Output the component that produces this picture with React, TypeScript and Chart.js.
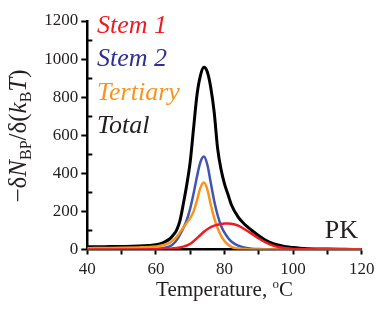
import React, { useEffect, useRef } from 'react';
import { Chart, registerables } from 'chart.js';

Chart.register(...registerables);

const temperatures = [40, 45, 50, 55, 58, 60, 62, 64, 65, 66, 67, 68, 69, 70, 71, 72, 73, 74, 75, 76, 77, 78, 79, 80, 81, 82, 84, 86, 88, 90, 92, 94, 96, 98, 100, 102, 106, 110, 115, 120];
const total = [14, 15, 16, 18, 21, 25, 35, 55, 75, 100, 150, 240, 340, 460, 640, 815, 915, 957, 932, 850, 720, 530, 420, 345, 290, 235, 170, 130, 100, 72, 48, 32, 22, 14, 10, 7, 3, 2, 1, 0];
const tertiary = [7, 8, 9, 11, 13, 16, 22, 35, 48, 65, 90, 115, 140, 165, 200, 260, 325, 352, 315, 235, 165, 112, 72, 45, 26, 14, 5, 2, 0, 0, 0, 0, 0, 0, 0, 0, 0, 0, 0, 0];
const stem2 = [0, 1, 1, 2, 3, 4, 7, 16, 28, 48, 78, 112, 155, 215, 295, 385, 460, 488, 445, 350, 255, 180, 125, 88, 62, 42, 20, 9, 4, 2, 1, 0, 0, 0, 0, 0, 0, 0, 0, 0];
const stem1 = [0, 0, 0, 0, 1, 1, 2, 4, 6, 8, 11, 15, 21, 30, 44, 60, 76, 93, 106, 117, 125, 130, 134, 136, 136, 135, 125, 105, 82, 58, 38, 22, 12, 6, 3, 2, 1, 0, 0, 0];

const seriesNames = ['Stem 1', 'Stem 2', 'Tertiary', 'Total'];
const lineColors = ['#ed1c24', '#4054b2', '#f7941d', '#000000'];
const textColors = ['#ed1c24', '#2e3192', '#f7941d', '#231f20'];
const cornerLabel = 'PK';
const xTitleMain = 'Temperature, ';
const xTitleSup = 'o';
const xTitleEnd = 'C';

const SERIF = '"Liberation Serif", "DejaVu Serif", serif';

type Run = { text: string; size: number; italic?: boolean; dy?: number };

function drawRuns(ctx: CanvasRenderingContext2D, runs: Run[], x: number, y: number, align: 'left' | 'center' | 'right') {
  const fontOf = (r: Run) => `${r.italic ? 'italic ' : ''}${r.size}px ${SERIF}`;
  let w = 0;
  for (const r of runs) {
    ctx.font = fontOf(r);
    w += ctx.measureText(r.text).width;
  }
  let cx = align === 'left' ? x : align === 'center' ? x - w / 2 : x - w;
  ctx.textAlign = 'left';
  ctx.textBaseline = 'alphabetic';
  for (const r of runs) {
    ctx.font = fontOf(r);
    ctx.fillText(r.text, cx, y + (r.dy || 0));
    cx += ctx.measureText(r.text).width;
  }
}

const textPlugin = {
  id: 'customText',
  afterDraw(chart: any) {
    const ctx: CanvasRenderingContext2D = chart.ctx;
    const area = chart.chartArea;
    const yScale = chart.scales.y;
    ctx.save();
    // minor inward ticks on y axis
    ctx.strokeStyle = '#000';
    ctx.lineWidth = 2;
    for (let v = 100; v < 1200; v += 200) {
      const py = Math.round(yScale.getPixelForValue(v)) + 0.5;
      ctx.beginPath();
      ctx.moveTo(area.left, py);
      ctx.lineTo(area.left + 5, py);
      ctx.stroke();
    }
    // legend
    const legendBase = [33, 66, 100, 133];
    seriesNames.forEach((name, i) => {
      ctx.fillStyle = textColors[i];
      drawRuns(ctx, [{ text: name, size: 26, italic: true }], 97, legendBase[i], 'left');
    });
    // corner label
    ctx.fillStyle = '#231f20';
    drawRuns(ctx, [{ text: cornerLabel, size: 26 }], 358, 238, 'right');
    // x title
    drawRuns(
      ctx,
      [
        { text: xTitleMain, size: 21 },
        { text: xTitleSup, size: 13, dy: -8 },
        { text: xTitleEnd, size: 21 },
      ],
      (area.left + area.right) / 2,
      296,
      'center'
    );
    // y title
    ctx.translate(26, 136);
    ctx.rotate(-Math.PI / 2);
    drawRuns(
      ctx,
      [
        { text: '\u2212\u03b4', size: 25 },
        { text: 'N', size: 25, italic: true },
        { text: 'BP', size: 16, dy: 5 },
        { text: '/\u03b4(', size: 25 },
        { text: 'k', size: 25, italic: true },
        { text: 'B', size: 16, dy: 5 },
        { text: 'T', size: 25, italic: true },
        { text: ')', size: 25 },
      ],
      0,
      0,
      'center'
    );
    ctx.restore();
  },
};

export default function App() {
  const ref = useRef<HTMLCanvasElement | null>(null);
  useEffect(() => {
    if (!ref.current) return;
    const mk = (vals: number[], i: number, width: number) => ({
      label: seriesNames[i],
      data: temperatures.map((t, k) => ({ x: t, y: vals[k] })),
      borderColor: lineColors[i],
      backgroundColor: lineColors[i],
      borderWidth: width,
      pointRadius: 0,
      fill: false,
      cubicInterpolationMode: 'monotone' as const,
    });
    const chart = new Chart(ref.current, {
      type: 'line',
      data: {
        datasets: [mk(stem1, 0, 2.5), mk(tertiary, 2, 2.5), mk(stem2, 1, 2.5), mk(total, 3, 3)],
      },
      options: {
        animation: false,
        responsive: false,
        maintainAspectRatio: false,
        layout: { padding: { left: 0, top: 21, right: 19.3, bottom: 0 } },
        plugins: { legend: { display: false }, tooltip: { enabled: false } },
        scales: {
          x: {
            type: 'linear',
            min: 40,
            max: 120,
            afterFit: (s: any) => {
              s.height = 60.5;
            },
            border: { display: true, color: '#000', width: 2.5 },
            grid: { drawOnChartArea: false, drawTicks: true, tickLength: 5, tickWidth: 2, tickColor: '#000' },
            ticks: {
              stepSize: 10,
              autoSkip: false,
              maxRotation: 0,
              padding: 5,
              color: '#231f20',
              font: { family: SERIF, size: 17 },
              callback: (v: any) => (Number(v) % 20 === 0 ? String(v) : ''),
            },
          },
          y: {
            type: 'linear',
            min: 0,
            max: 1200,
            afterFit: (s: any) => {
              s.width = 87.3;
            },
            border: { display: true, color: '#000', width: 2.5 },
            grid: { drawOnChartArea: false, drawTicks: true, tickLength: 6, tickWidth: 2, tickColor: '#000' },
            ticks: {
              stepSize: 200,
              padding: 3,
              color: '#231f20',
              font: { family: SERIF, size: 17 },
              callback: (v: any) => String(v),
            },
          },
        },
      },
      plugins: [textPlugin],
    });
    return () => chart.destroy();
  }, []);
  return (
    <div style={{ position: 'fixed', left: 0, top: 0, width: 381, height: 310, background: '#fff' }}>
      <canvas ref={ref} width={381} height={310} />
    </div>
  );
}
